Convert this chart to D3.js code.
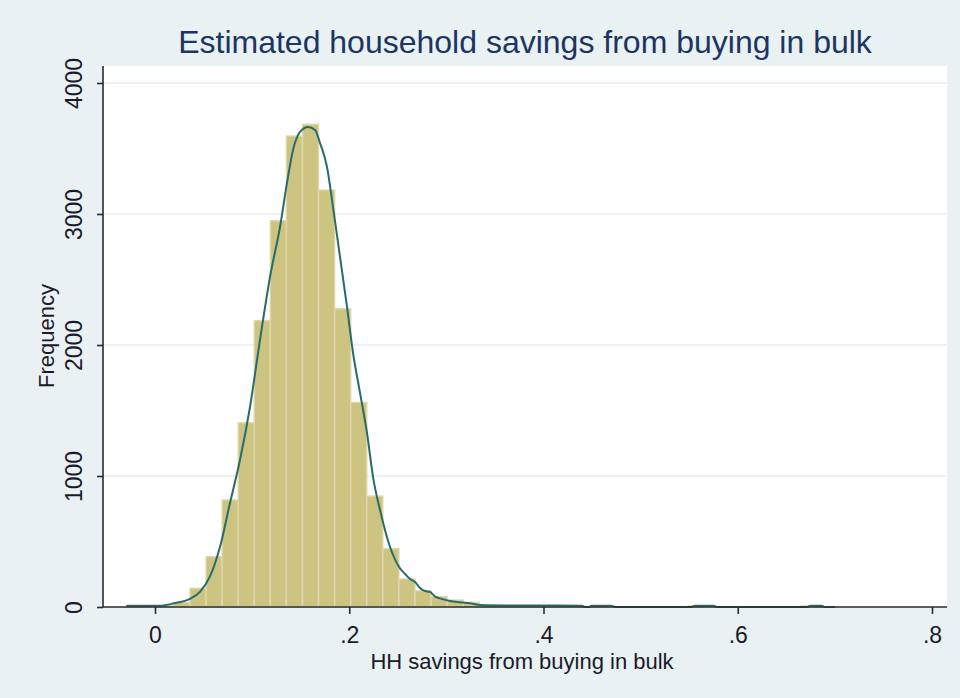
<!DOCTYPE html>
<html>
<head>
<meta charset="utf-8">
<script src="https://cdn.jsdelivr.net/npm/d3@7/dist/d3.min.js"></script>
<style>
    html, body { margin: 0; padding: 0; background: #e9f1f3; }
    svg { display: block; font-family: "Liberation Sans", Arial, sans-serif; }
</style>
</head>
<body>
<svg id="chart"></svg>
<script>
// Histogram bins: start, width and frequency per bin
const binStart = -0.0302;
const binWidth = 0.01655;
const binCounts = [
    3, 4, 10, 35, 143, 384, 817, 1407, 2186, 2949,
    3595, 3685, 3183, 2277, 1562, 847, 445, 214, 124, 79,
    53, 36, 12, 8, 5, 4, 3, 2, 2, 6,
    0, 0, 1, 0, 0, 10, 0, 0, 0, 0,
    0, 0, 8, 1
];

// Kernel density overlay, scaled to frequency
const densityX = [
    -0.0295, 0.005, 0.0196, 0.036, 0.0463, 0.0567, 0.0669, 0.0772, 0.0875, 0.0978,
    0.1081, 0.1184, 0.1287, 0.1359, 0.1421, 0.1493, 0.1576, 0.1648, 0.1699, 0.1771,
    0.1833, 0.1905, 0.1977, 0.2039, 0.2111, 0.2183, 0.2245, 0.2317, 0.242, 0.2523,
    0.2575, 0.2626, 0.2678, 0.2729, 0.278, 0.2832, 0.2884, 0.2935, 0.3038, 0.3141,
    0.3244, 0.3347, 0.36, 0.40, 0.4395, 0.443, 0.447, 0.449, 0.47, 0.474,
    0.552, 0.556, 0.575, 0.579, 0.671, 0.675, 0.686, 0.690, 0.70
];
const densityY = [
    9, 10, 28, 62, 115, 235, 458, 794, 1122, 1527,
    2038, 2519, 2901, 3237, 3489, 3626, 3664, 3641, 3542, 3359,
    3053, 2672, 2290, 1939, 1634, 1328, 992, 740, 458, 295,
    252, 214, 191, 145, 122, 115, 79, 66, 46, 36,
    28, 15, 12, 11, 10, 0, 0, 10, 10, 0,
    0, 10, 10, 0, 0, 10, 10, 0, 0
];

const xTicks = [0, 0.2, 0.4, 0.6, 0.8];
const xTickLabels = ['0', '.2', '.4', '.6', '.8'];
const yTicks = [0, 1000, 2000, 3000, 4000];

const titleText = 'Estimated household savings from buying in bulk';
const xTitle = 'HH savings from buying in bulk';
const yTitle = 'Frequency';

const width = 960, height = 698;
const plot = { left: 103, right: 947, top: 66, bottom: 607 };

const svg = d3.select('#chart').attr('width', width).attr('height', height);

svg.append('rect')
    .attr('width', width).attr('height', height)
    .attr('fill', '#e9f1f3');

const x = d3.scaleLinear().domain([0, 0.8]).range([155, 932]);
const y = d3.scaleLinear().domain([0, 4000]).range([607, 83]);

// Plot region
svg.append('rect')
    .attr('x', plot.left).attr('y', plot.top)
    .attr('width', plot.right - plot.left)
    .attr('height', plot.bottom - plot.top)
    .attr('fill', '#ffffff');

// Gridlines
svg.append('g')
    .selectAll('line')
    .data(yTicks.filter(d => d > 0))
    .enter()
    .append('line')
    .attr('x1', plot.left).attr('x2', plot.right)
    .attr('y1', d => y(d)).attr('y2', d => y(d))
    .attr('stroke', '#e4edf0')
    .attr('stroke-width', 1.5);

// Bars
const bins = binCounts.map((c, i) => ({
    x0: binStart + i * binWidth,
    x1: binStart + (i + 1) * binWidth,
    count: c
})).filter(d => d.count > 0);

svg.append('g')
    .selectAll('rect')
    .data(bins)
    .enter()
    .append('rect')
    .attr('x', d => x(d.x0))
    .attr('width', d => x(d.x1) - x(d.x0))
    .attr('y', d => y(d.count))
    .attr('height', d => y(0) - y(d.count))
    .attr('fill', '#cdc482')
    .attr('stroke', '#e0d9a7')
    .attr('stroke-width', 1.4);

// Density line
const pts = densityX.map((v, i) => [v, densityY[i]]);
svg.append('path')
    .datum(pts)
    .attr('d', d3.line()
        .x(d => x(d[0]))
        .y(d => y(d[1]))
        .curve(d3.curveMonotoneX))
    .attr('fill', 'none')
    .attr('stroke', '#276c6b')
    .attr('stroke-width', 2);

// Axes
const xAxis = svg.append('g')
    .attr('transform', `translate(0,${plot.bottom})`)
    .call(d3.axisBottom(x)
        .tickValues(xTicks)
        .tickFormat((d, i) => xTickLabels[i])
        .tickSize(7)
        .tickPadding(13));
xAxis.select('.domain')
    .attr('d', `M${plot.left},0H${plot.right}`)
    .attr('stroke', '#2a2a2a')
    .attr('stroke-width', 1.6);
xAxis.selectAll('.tick line').attr('stroke', '#2a2a2a').attr('stroke-width', 1.6);
xAxis.selectAll('.tick text')
    .attr('font-size', 23)
    .attr('font-family', '"Liberation Sans", Arial, sans-serif')
    .attr('fill', '#1a1a2a');

const yAxis = svg.append('g')
    .attr('transform', `translate(${plot.left},0)`)
    .call(d3.axisLeft(y)
        .tickValues(yTicks)
        .tickFormat(d3.format('d'))
        .tickSize(6)
        .tickPadding(0));
yAxis.select('.domain')
    .attr('d', `M0,${plot.top}V${plot.bottom}`)
    .attr('stroke', '#2a2a2a')
    .attr('stroke-width', 1.6);
yAxis.selectAll('.tick line').attr('stroke', '#2a2a2a').attr('stroke-width', 1.6);
yAxis.selectAll('.tick text')
    .attr('font-size', 23)
    .attr('font-family', '"Liberation Sans", Arial, sans-serif')
    .attr('fill', '#1a1a2a')
    .attr('text-anchor', 'middle')
    .attr('dy', 0)
    .attr('x', 0)
    .attr('transform', 'translate(-21,0) rotate(-90)');

// Titles
svg.append('text')
    .attr('x', (plot.left + plot.right) / 2)
    .attr('y', 53)
    .attr('text-anchor', 'middle')
    .attr('font-size', 32)
    .attr('fill', '#1c3561')
    .text(titleText);

svg.append('text')
    .attr('x', (plot.left + plot.right) / 2 - 3)
    .attr('y', 669)
    .attr('text-anchor', 'middle')
    .attr('font-size', 22)
    .attr('fill', '#1a1a2a')
    .text(xTitle);

svg.append('text')
    .attr('transform', `translate(54,336) rotate(-90)`)
    .attr('text-anchor', 'middle')
    .attr('font-size', 22)
    .attr('fill', '#1a1a2a')
    .text(yTitle);
</script>
</body>
</html>
